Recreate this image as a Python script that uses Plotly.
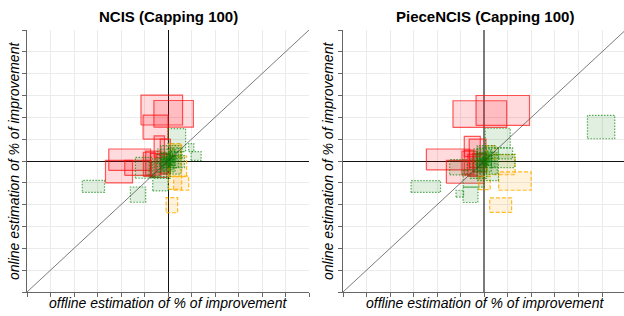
import plotly.graph_objects as go

# ---------------- data (units: one grid step) ----------------
# Each box: offline estimate interval (x0..x1) vs online estimate interval (y0..y1)
ncis_red_x0 = [-1.15, -0.60, -1.06, -0.59, -0.33, -2.52, -2.66, -1.84, -0.95, -0.75, -0.50, -1.05]
ncis_red_x1 = [0.62, 1.08, 0.00, -0.15, 0.10, -0.74, -1.51, -0.71, -0.30, -0.05, 0.05, -0.55]
ncis_red_y0 = [1.65, 1.55, 1.00, 0.15, -0.60, -0.43, -1.00, -0.66, -0.65, -0.75, -0.55, -0.70]
ncis_red_y1 = [3.02, 2.77, 2.10, 1.15, 1.00, 0.55, 0.03, 0.03, 0.45, 0.35, 0.30, 0.40]

ncis_green_x0 = [0.00, -3.65, -1.60, -1.39, -0.65, 0.98, 0.88, -0.45, -0.30, -0.60, -0.20, -0.35, 0.10, -0.15, -0.25, -0.80, 0.05,
                 -0.10, -0.20, 0.00, -0.05, -0.30, 0.05]
ncis_green_x1 = [0.75, -2.70, -0.95, -0.65, 0.00, 1.41, 1.10, 0.30, 0.45, 0.10, 0.55, 0.20, 0.60, 0.15, 0.25, -0.35, 0.70,
                 0.10, 0.05, 0.30, 0.20, 0.00, 0.35]
ncis_green_y0 = [0.43, -1.44, -1.89, -0.79, -1.37, 0.03, 0.43, -0.50, -0.30, -0.80, -0.60, -0.20, 0.10, -0.15, -0.40, -0.75, -0.30,
                 -0.10, -0.30, -0.20, -0.05, -0.45, 0.00]
ncis_green_y1 = [1.48, -0.89, -1.19, 0.17, -0.72, 0.43, 0.80, 0.55, 0.70, 0.10, 0.40, 0.35, 0.60, 0.15, 0.20, -0.05, 0.25,
                 0.10, 0.15, 0.25, 0.30, 0.05, 0.45]

ncis_orange_x0 = [-0.08, 0.24, 0.06, 0.20, 0.02]
ncis_orange_x1 = [0.41, 0.88, 0.79, 0.55, 0.58]
ncis_orange_y0 = [-2.37, -1.34, -0.72, 0.20, -1.30]
ncis_orange_y1 = [-1.68, -0.69, 0.23, 0.73, 0.80]

piece_red_x0 = [-0.35, -1.33, -0.85, -0.64, -2.46, -1.61, -0.95, -0.70, -0.50, -0.85]
piece_red_x1 = [1.92, 0.95, -0.17, 0.07, -0.62, -0.03, -0.30, 0.00, 0.10, -0.45]
piece_red_y0 = [1.63, 1.54, 0.20, -0.30, -0.41, -1.02, -0.65, -0.70, -0.50, -0.60]
piece_red_y1 = [3.00, 2.76, 1.13, 1.00, 0.55, 0.03, 0.45, 0.30, 0.35, 0.50]

piece_green_x0 = [4.38, -3.11, -0.90, -1.20, 0.04, -1.47, 0.30, 0.60, -0.45, -0.30, -0.60, -0.20, -0.35, -0.15, -0.90, -0.30,
                  -0.10, -0.20, 0.00, -0.05, -0.30, 0.05]
piece_green_x1 = [5.54, -1.86, -0.27, -0.88, 1.10, -0.73, 1.30, 1.20, 0.30, 0.45, 0.10, 0.55, 0.20, 0.15, 0.00, 0.60,
                  0.10, 0.05, 0.30, 0.20, 0.00, 0.35]
piece_green_y0 = [1.02, -1.44, -1.90, -1.65, 0.60, -0.64, -0.30, 0.10, -0.50, -0.30, -0.80, -0.60, -0.20, -0.15, -1.20, -0.90,
                  -0.10, -0.30, -0.20, -0.05, -0.45, 0.00]
piece_green_y1 = [2.09, -0.90, -1.20, -1.34, 1.50, 0.06, 0.30, 0.60, 0.55, 0.70, 0.10, 0.40, 0.35, 0.15, -0.40, 0.60,
                  0.10, 0.15, 0.25, 0.30, 0.05, 0.45]

piece_orange_x0 = [0.23, 0.61, 0.11, -0.24, 0.10]
piece_orange_x1 = [1.16, 1.99, 1.31, 0.25, 0.50]
piece_orange_y0 = [-2.35, -1.34, -0.63, -1.31, 0.10]
piece_orange_y1 = [-1.69, -0.50, 0.29, -0.70, 0.70]

axis_range = [-6, 6]
titles = ["NCIS (Capping 100)", "PieceNCIS (Capping 100)"]
x_title = "offline estimation of % of improvement"
y_title = "online estimation of % of improvement"

# ---------------- styles ----------------
styles = {
    "red": dict(line=dict(color="rgba(255,20,20,0.7)", width=1.2, dash="solid"),
                fill="rgba(255,0,20,0.14)"),
    "orange": dict(line=dict(color="rgba(255,175,0,0.85)", width=1.2, dash="4px,2px"),
                   fill="rgba(255,165,0,0.13)"),
    "green": dict(line=dict(color="rgba(0,130,0,0.65)", width=1.2, dash="1.5px,1.5px"),
                  fill="rgba(0,120,0,0.12)"),
}

panels = [
    ("x", "y", [("red", ncis_red_x0, ncis_red_x1, ncis_red_y0, ncis_red_y1),
                ("orange", ncis_orange_x0, ncis_orange_x1, ncis_orange_y0, ncis_orange_y1),
                ("green", ncis_green_x0, ncis_green_x1, ncis_green_y0, ncis_green_y1)]),
    ("x2", "y2", [("red", piece_red_x0, piece_red_x1, piece_red_y0, piece_red_y1),
                  ("orange", piece_orange_x0, piece_orange_x1, piece_orange_y0, piece_orange_y1),
                  ("green", piece_green_x0, piece_green_x1, piece_green_y0, piece_green_y1)]),
]

fig = go.Figure()
for xa, ya, groups in panels:
    for name, x0s, x1s, y0s, y1s in groups:
        st = styles[name]
        for x0, x1, y0, y1 in zip(x0s, x1s, y0s, y1s):
            fig.add_trace(go.Scatter(
                x=[x0, x1, x1, x0, x0], y=[y0, y0, y1, y1, y0],
                mode="lines", fill="toself", fillcolor=st["fill"],
                line=st["line"], xaxis=xa, yaxis=ya,
                showlegend=False, hoverinfo="skip"))
    # diagonal y = x
    fig.add_trace(go.Scatter(x=axis_range, y=axis_range, mode="lines",
                             line=dict(color="rgba(60,60,60,0.85)", width=0.8),
                             xaxis=xa, yaxis=ya, showlegend=False, hoverinfo="skip"))

W, H = 624, 316
y_dom = [1 - 292 / H, 1 - 30 / H]
x_dom1 = [27 / W, 309 / W]
x_dom2 = [343 / W, 1.0]
right_max = -6 + (W - 343) / 23.55

common_axis = dict(showgrid=True, gridcolor="#ebebeb", gridwidth=1,
                   showticklabels=False, ticks="outside", ticklen=4,
                   tickcolor="#666", tickwidth=1, dtick=1,
                   showline=True, linecolor="#666", linewidth=1,
                   zeroline=True, zerolinecolor="#111", zerolinewidth=1.3,
                   fixedrange=True)

fig.update_layout(
    width=W, height=H, margin=dict(l=0, r=0, t=0, b=0),
    paper_bgcolor="white", plot_bgcolor="white",
    xaxis=dict(domain=x_dom1, range=axis_range, anchor="y", tick0=-6, **common_axis),
    yaxis=dict(domain=y_dom, range=axis_range, anchor="x", tick0=-6, **common_axis),
    xaxis2=dict(domain=x_dom2, range=[-6, right_max], anchor="y2", tick0=-6,
                **{**common_axis, "zerolinecolor": "rgba(90,90,90,0.8)", "zerolinewidth": 2.2}),
    yaxis2=dict(domain=y_dom, range=axis_range, anchor="x2", tick0=-6, **common_axis),
)

font_family = "Liberation Sans, Arial, Helvetica, sans-serif"
centers = [(x_dom1[0] + x_dom1[1]) / 2, (343 + 626) / 2 / W]
ann = []
for c, t in zip(centers, titles):
    ann.append(dict(text="<b>%s</b>" % t, x=c, y=1 - 17 / H, xref="paper", yref="paper",
                    showarrow=False, xanchor="center", yanchor="middle",
                    font=dict(family=font_family, size=15, color="black")))
    ann.append(dict(text="<i>%s</i>" % x_title, x=c, y=1 - 303 / H, xref="paper", yref="paper",
                    showarrow=False, xanchor="center", yanchor="middle",
                    font=dict(family=font_family, size=14, color="black")))
for xp in [14, 328]:
    ann.append(dict(text="<i>%s</i>" % y_title, x=xp / W, y=(y_dom[0] + y_dom[1]) / 2,
                    xref="paper", yref="paper", showarrow=False, textangle=-90,
                    xanchor="center", yanchor="middle",
                    font=dict(family=font_family, size=14, color="black")))
fig.update_layout(annotations=ann)

fig.write_html("out.html", config={"displayModeBar": False},
               post_script="document.body.style.margin='0px';document.body.style.overflow='hidden';")
